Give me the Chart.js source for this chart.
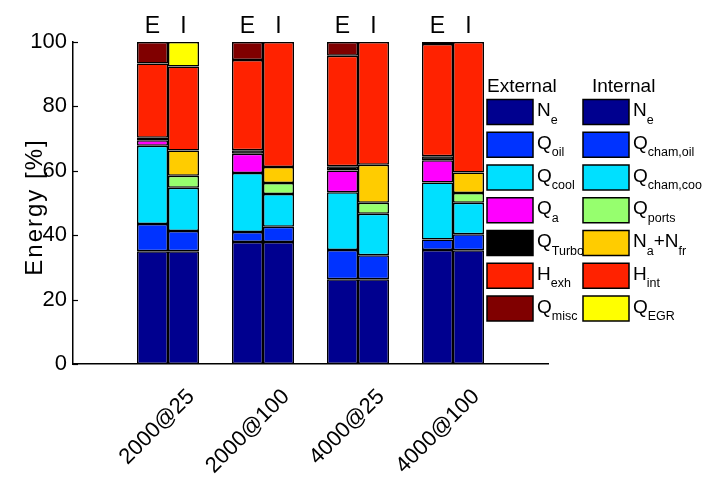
<!DOCTYPE html>
<html><head><meta charset="utf-8">
<script src="https://cdn.jsdelivr.net/npm/chart.js@4"></script>
<style>html,body{margin:0;padding:0;background:#fff}#wrap{width:714px;height:483px}</style>
</head><body><div id="wrap"><canvas id="c" width="714" height="483"></canvas></div>
<script>
// ---------- data ----------
const categories = ['2000@25', '2000@100', '4000@25', '4000@100'];
const groupLabels = ['E', 'I'];
const yTickValues = [0, 20, 40, 60, 80, 100];
const yTitle = 'Energy [%]';
const legendTitles = ['External', 'Internal'];

const extLabels = ['N_{e}', 'Q_{oil}', 'Q_{cool}', 'Q_{a}', 'Q_{Turbo}', 'H_{exh}', 'Q_{misc}'];
const intLabels = ['N_{e}', 'Q_{cham,oil}', 'Q_{cham,coo}', 'Q_{ports}', 'N_{a}+N_{fr}', 'H_{int}', 'Q_{EGR}'];

// External balance (E bars)
const ext_Ne    = [35.0, 37.9, 26.3, 35.4];
const ext_Qoil  = [8.5, 3.1, 9.1, 3.3];
const ext_Qcool = [24.3, 18.3, 17.9, 17.7];
const ext_Qa    = [1.7, 6.0, 6.8, 6.9];
const ext_Qturb = [0.8, 1.1, 1.3, 1.2];
const ext_Hexh  = [23.0, 28.0, 34.3, 34.9];
const ext_Qmisc = [6.7, 5.6, 4.3, 0.6];

// Internal balance (I bars)
const int_Ne     = [35.0, 37.9, 26.3, 35.3];
const int_Qcoil  = [6.3, 4.7, 7.5, 5.0];
const int_Qccoo  = [13.4, 10.2, 12.9, 9.8];
const int_Qports = [3.8, 3.4, 3.4, 3.0];
const int_NaNfr  = [7.8, 5.0, 11.8, 6.4];
const int_Hint   = [26.1, 38.8, 38.1, 40.5];
const int_QEGR   = [7.6, 0, 0, 0];

const extSeries = [ext_Ne, ext_Qoil, ext_Qcool, ext_Qa, ext_Qturb, ext_Hexh, ext_Qmisc];
const intSeries = [int_Ne, int_Qcoil, int_Qccoo, int_Qports, int_NaNfr, int_Hint, int_QEGR];

// ---------- styles ----------
const extColors = ['#00008F', '#0033FF', '#00E0FF', '#FF00FF', '#000000', '#FF2200', '#800000'];
const intColors = ['#00008F', '#0033FF', '#00E0FF', '#96FF6E', '#FFCC00', '#FF2200', '#FFFF00'];
const FONT = '"Liberation Sans", Arial, Helvetica, sans-serif';

// padded so that the category axis spans [0, 5] like the original
const labels = [''].concat(categories, ['']);
const pad = arr => [null].concat(arr, [null]);

const datasets = [];
extSeries.forEach((s, k) => datasets.push({
  label: extLabels[k], data: pad(s), stack: 'E',
  backgroundColor: extColors[k]
}));
intSeries.forEach((s, k) => datasets.push({
  label: intLabels[k], data: pad(s), stack: 'I',
  backgroundColor: intColors[k]
}));

function parseRich(str) {
  const parts = [];
  const re = /_\{([^}]*)\}/g;
  let last = 0, m;
  while ((m = re.exec(str)) !== null) {
    if (m.index > last) parts.push({ t: str.slice(last, m.index), sub: false });
    parts.push({ t: m[1], sub: true });
    last = re.lastIndex;
  }
  if (last < str.length) parts.push({ t: str.slice(last), sub: false });
  return parts;
}
function drawRich(ctx, str, x, y) {
  parseRich(str).forEach(p => {
    ctx.font = (p.sub ? '12.5px ' : '19px ') + FONT;
    const yy = p.sub ? y + 7.5 : y;
    ctx.fillText(p.t, x, yy);
    x += ctx.measureText(p.t).width;
  });
}

const decorPlugin = {
  id: 'decor',
  afterDraw(chart) {
    const ctx = chart.ctx;
    const ys = chart.scales.y;
    const area = chart.chartArea;
    ctx.save();
    // inward y ticks
    ctx.strokeStyle = '#000';
    ctx.lineWidth = 1.2;
    ys.ticks.forEach(t => {
      const py = Math.round(ys.getPixelForValue(t.value)) + 0.5;
      ctx.beginPath();
      ctx.moveTo(area.left, py);
      ctx.lineTo(area.left + 5, py);
      ctx.stroke();
    });
    // E / I group labels above the bars
    ctx.fillStyle = '#000';
    ctx.font = '23px ' + FONT;
    ctx.textAlign = 'center';
    ctx.textBaseline = 'alphabetic';
    const metaE = chart.getDatasetMeta(0);
    const metaI = chart.getDatasetMeta(extSeries.length);
    for (let i = 1; i <= categories.length; i++) {
      ctx.fillText(groupLabels[0], metaE.data[i].x, 33);
      ctx.fillText(groupLabels[1], metaI.data[i].x, 33);
    }
    // y axis title
    ctx.save();
    ctx.translate(42, 207);
    ctx.rotate(-Math.PI / 2);
    ctx.font = '24px ' + FONT;
    ctx.letterSpacing = '2px';
    ctx.textAlign = 'center';
    ctx.textBaseline = 'alphabetic';
    ctx.fillText(yTitle, 0, 0);
    ctx.restore();
    // legend
    const cols = [
      { x: 487, tx: 537, labels: extLabels, colors: extColors, title: legendTitles[0], ttx: 487 },
      { x: 583, tx: 633, labels: intLabels, colors: intColors, title: legendTitles[1], ttx: 592 }
    ];
    ctx.textAlign = 'left';
    cols.forEach(c => {
      ctx.font = '19px ' + FONT;
      ctx.fillStyle = '#000';
      ctx.fillText(c.title, c.ttx, 92);
      c.labels.forEach((lab, k) => {
        const top = 99.5 + k * 32.75;
        ctx.fillStyle = c.colors[k];
        ctx.fillRect(c.x, top, 46, 25);
        ctx.strokeStyle = '#000';
        ctx.lineWidth = 1.5;
        ctx.strokeRect(c.x, top, 46, 25);
        ctx.fillStyle = '#000';
        drawRich(ctx, lab, c.tx, top + 16.5);
      });
    });
    ctx.restore();
  }
};

new Chart(document.getElementById('c'), {
  type: 'bar',
  data: { labels, datasets },
  options: {
    responsive: false,
    animation: false,
    layout: { padding: { top: 42, right: 166, bottom: 0, left: 0 } },
    datasets: {
      bar: {
        categoryPercentage: 0.6526,
        barPercentage: 1.0,
        borderColor: '#000',
        borderWidth: 1.5,
        borderSkipped: false
      }
    },
    plugins: { legend: { display: false }, tooltip: { enabled: false } },
    scales: {
      x: {
        stacked: true,
        offset: false,
        grid: { display: false, drawTicks: false },
        border: { display: true, color: '#000', width: 1.5 },
        ticks: {
          autoSkip: false, maxRotation: 45, minRotation: 45,
          color: '#000', font: { size: 22, family: FONT },
          padding: 20, labelOffset: 23
        },
        afterFit: s => { s.height = 119; }
      },
      y: {
        stacked: true,
        min: 0, max: 100,
        afterBuildTicks: s => { s.ticks = yTickValues.map(v => ({ value: v })); },
        grid: { display: false, drawTicks: false },
        border: { display: true, color: '#000', width: 1.5 },
        ticks: { color: '#000', font: { size: 22, family: FONT }, padding: 6 },
        afterFit: s => { s.width = 73; }
      }
    }
  },
  plugins: [decorPlugin]
});
</script>
</body></html>
